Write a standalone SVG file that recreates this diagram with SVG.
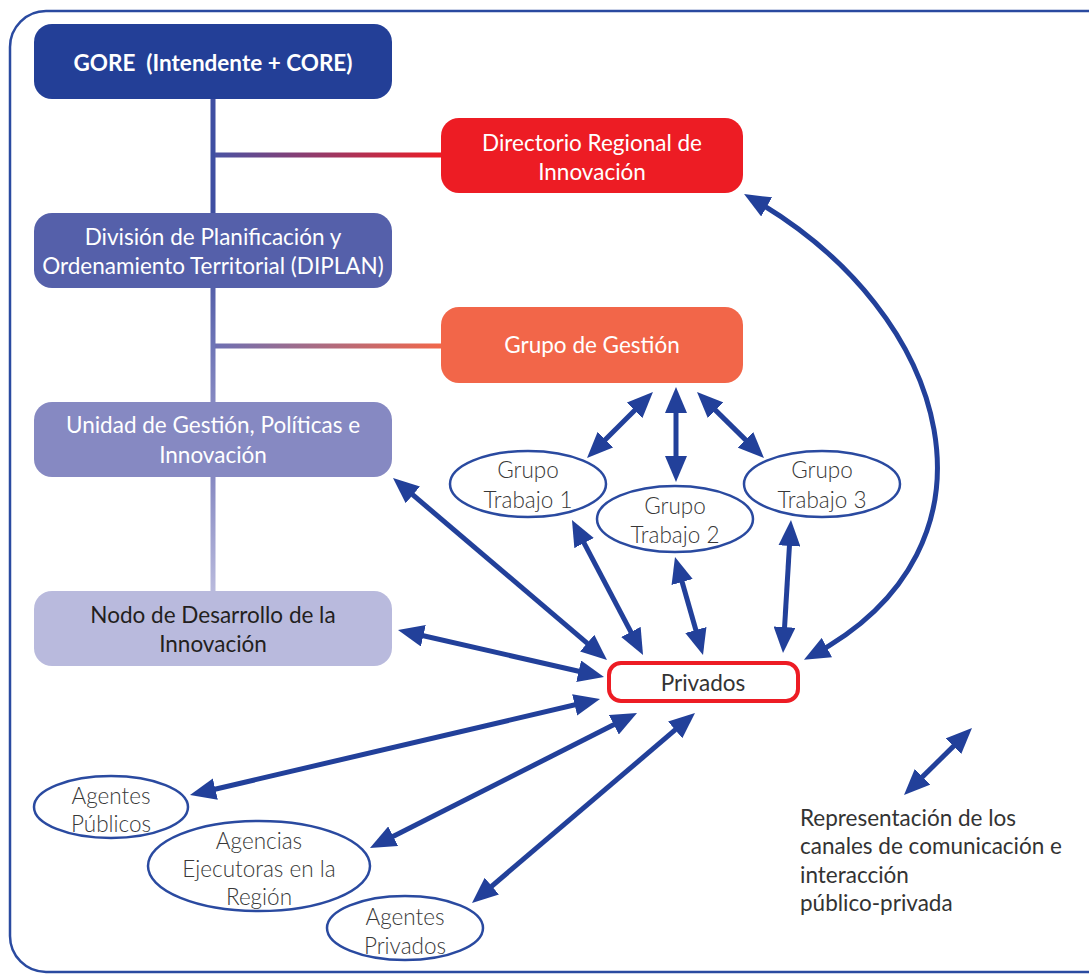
<svg xmlns="http://www.w3.org/2000/svg" width="1089" height="974" viewBox="0 0 1089 974">
<defs>
<marker id="ah" markerUnits="userSpaceOnUse" markerWidth="26" markerHeight="22" viewBox="0 0 26 22" refX="18" refY="11" orient="auto-start-reverse">
<path d="M0,0 L26,11 L0,22 z" fill="#22409a"/>
</marker>
<linearGradient id="gRed" x1="0" y1="0" x2="1" y2="0"><stop offset="0" stop-color="#4a53a3"/><stop offset="1" stop-color="#ed1c24"/></linearGradient>
<linearGradient id="gOr" x1="0" y1="0" x2="1" y2="0"><stop offset="0" stop-color="#6d70b3"/><stop offset="1" stop-color="#f26649"/></linearGradient>
<linearGradient id="gV1" x1="0" y1="0" x2="0" y2="1"><stop offset="0" stop-color="#5560aa"/><stop offset="1" stop-color="#8689c2"/></linearGradient>
<linearGradient id="gV2" x1="0" y1="0" x2="0" y2="1"><stop offset="0" stop-color="#8689c2"/><stop offset="1" stop-color="#b9badd"/></linearGradient>
</defs>
<style>
text{font-family:Lato,"Open Sans","Liberation Sans",sans-serif;text-anchor:middle;font-size:22.5px}
.w{fill:#ffffff}
.d{fill:#231f20}
.e{fill:#383838;font-weight:300}
.l{fill:#333333;text-anchor:start}
.ell{fill:#ffffff;stroke:#2a4aa0;stroke-width:2.5}
.arr{fill:none;stroke:#22409a;stroke-width:5;marker-start:url(#ah);marker-end:url(#ah)}
</style>
<rect x="10" y="11" width="1120" height="961" rx="36" fill="none" stroke="#2a4aa0" stroke-width="2.5"/>
<g id="tree-lines">
<rect x="210.5" y="99" width="5" height="114" fill="#3f4fa2"/>
<rect x="210.5" y="288" width="5" height="114" fill="url(#gV1)"/>
<rect x="210.5" y="477" width="5" height="114" fill="url(#gV2)"/>
<rect x="215" y="152.5" width="227" height="5" fill="url(#gRed)"/>
<rect x="215" y="343.5" width="227" height="5" fill="url(#gOr)"/>
</g>
<g id="gore"><rect x="34" y="24" width="358" height="75" rx="18" fill="#233f97"/><text class="w" x="213" y="71" font-weight="700" xml:space="preserve">GORE  (Intendente + CORE)</text></g>
<g id="diplan"><rect x="34" y="213" width="358" height="75" rx="18" fill="#5560aa"/><text class="w" x="213" y="245">División de Planificación y</text><text class="w" x="213" y="274">Ordenamiento Territorial (DIPLAN)</text></g>
<g id="unidad"><rect x="34" y="402" width="358" height="75" rx="18" fill="#8689c2"/><text class="w" x="213" y="433">Unidad de Gestión, Políticas e</text><text class="w" x="213" y="463">Innovación</text></g>
<g id="nodo"><rect x="34" y="591" width="358" height="75" rx="18" fill="#b9badd"/><text class="d" x="213" y="623">Nodo de Desarrollo de la</text><text class="d" x="213" y="652">Innovación</text></g>
<g id="directorio"><rect x="441" y="118" width="302" height="75" rx="18" fill="#ed1c24"/><text class="w" x="592" y="151">Directorio Regional de</text><text class="w" x="592" y="180">Innovación</text></g>
<g id="grupo-gestion"><rect x="441" y="307" width="302" height="76" rx="18" fill="#f26649"/><text class="w" x="592" y="353">Grupo de Gestión</text></g>
<g id="gt1"><ellipse class="ell" cx="528" cy="484" rx="78" ry="33"/><text class="e" x="528" y="478">Grupo</text><text class="e" x="528" y="508">Trabajo 1</text></g>
<g id="gt2"><ellipse class="ell" cx="675" cy="519" rx="78" ry="33"/><text class="e" x="675" y="514">Grupo</text><text class="e" x="675" y="543">Trabajo 2</text></g>
<g id="gt3"><ellipse class="ell" cx="822" cy="484" rx="78" ry="33"/><text class="e" x="822" y="478">Grupo</text><text class="e" x="822" y="508">Trabajo 3</text></g>
<g id="privados"><rect x="609" y="663" width="189" height="38" rx="12" fill="#ffffff" stroke="#ed1c24" stroke-width="4"/><text x="703" y="691" fill="#333333">Privados</text></g>
<g id="agentes-publicos"><ellipse class="ell" cx="111" cy="807" rx="77" ry="31"/><text class="e" x="111" y="804">Agentes</text><text class="e" x="111" y="832">Públicos</text></g>
<g id="agencias"><ellipse class="ell" cx="259" cy="866" rx="111" ry="45"/><text class="e" x="259" y="849">Agencias</text><text class="e" x="259" y="877">Ejecutoras en la</text><text class="e" x="259" y="905">Región</text></g>
<g id="agentes-privados"><ellipse class="ell" cx="405" cy="928" rx="78" ry="32"/><text class="e" x="405" y="925">Agentes</text><text class="e" x="405" y="954">Privados</text></g>
<g id="connectors">
<path class="arr" d="M751,198 C954,314 1016,547 811,656"/>
<path class="arr" d="M647.3,397.7 L592.7,452.3"/>
<path class="arr" d="M676,395 L676,474"/>
<path class="arr" d="M702.7,397.6 L758.3,452.4"/>
<path class="arr" d="M575.7,527.1 L639.3,647.9"/>
<path class="arr" d="M677.2,564.7 L700.8,647.3"/>
<path class="arr" d="M790.5,528 L783.5,645"/>
<path class="arr" d="M399.1,483.2 L600.9,654.8"/>
<path class="arr" d="M405.8,631.8 L596.2,675.2"/>
<path class="arr" d="M197.8,793.2 L592.2,700.8"/>
<path class="arr" d="M377.1,844.4 L629.9,716.6"/>
<path class="arr" d="M478.1,897.8 L688.9,718.2"/>
<path class="arr" d="M909.7,789.4 L966.3,733.6"/>
</g>
<g id="legend">
<text class="l" x="800" y="826">Representación de los</text>
<text class="l" x="800" y="854">canales de comunicación e</text>
<text class="l" x="800" y="883">interacción</text>
<text class="l" x="800" y="911">público-privada</text>
</g>
</svg>
